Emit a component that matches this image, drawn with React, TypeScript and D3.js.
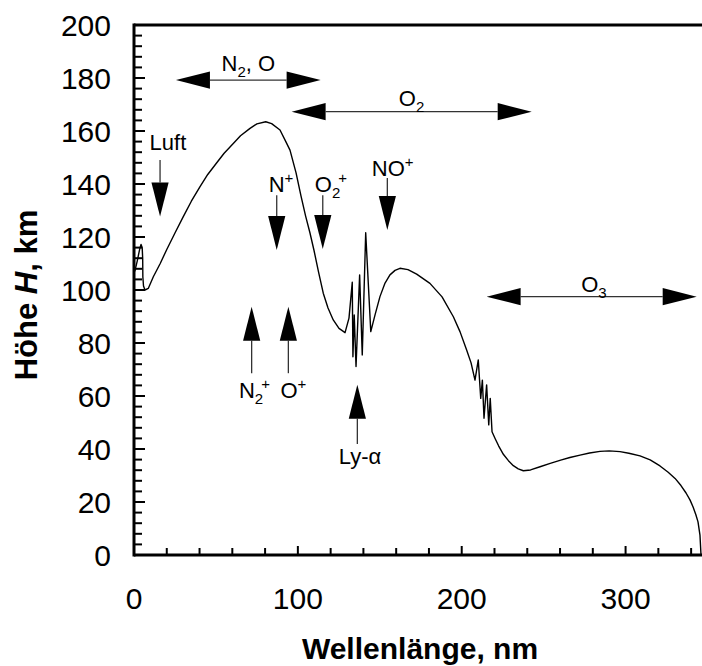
import React from "react";
import * as d3 from "d3";

// Curve: wavelength (nm) vs altitude (km)
const wavelength = [
  0.5, 2, 3.5, 4.3, 5, 5.3, 5.4, 5.8, 6.7, 8.7, 11.8, 16, 20, 25, 30, 35, 40.3, 45, 50.5, 55, 60.6, 65, 70.8, 75, 80.4,
  84, 89.1, 92.8, 95.2, 98.9, 101.9, 104.7, 107.4, 109.8, 112.6, 115.5, 118.4, 121.6, 125.1, 128.8,
  131.2, 133.2, 133.6, 134.4, 135.5, 137.7, 139.3, 141.4, 144.5, 147.1, 150.1, 153.2, 156.2, 159.3, 162.3,
  167.2, 172.5, 180.6, 188.0, 194.9, 199.0, 203.0, 205.7, 208.1,
  210.1, 211.6, 212.6, 213.6, 215.2, 216.5, 217.4, 218.5, 220.5, 222.5, 225.4, 228.5, 231.5, 234.5, 237.6, 242, 247.8,
  254, 260.4, 266, 272.2, 278, 284.4, 290, 296.6, 302, 308.8, 315, 321, 326, 330.2, 333.8, 336.9, 339.3, 341.2, 342.9, 344.2, 345.4, 346,
];
const altitude = [
  107, 111, 115.5, 117.2, 116, 112, 105, 101.5, 100, 100.6, 105, 110, 115.3, 121.5, 127.6, 133.5, 139, 143.6, 148, 151.6, 155.3, 158.2, 161, 162.7, 163.5,
  162.8, 160.4, 155.8, 152.8, 144.2, 135.5, 128.0, 121.5, 115.1, 106.8, 98.8, 93.2, 88.7, 85.5, 83.9,
  89.4, 102.9, 74.8, 90.6, 71.1, 105.7, 75.5, 121.6, 84.3, 90.6, 97.5, 102.6, 105.7, 107.4, 108.2,
  107.7, 106.0, 102.5, 97.4, 89.9, 84.2, 77.4, 72.5, 66.0,
  73.6, 59.1, 66.0, 51.6, 64.2, 49.1, 59.1, 46.5, 43.8, 41.2, 38.0, 35.6, 33.7, 32.5, 31.8, 32.1, 33.3,
  34.6, 35.8, 36.8, 37.7, 38.5, 39.1, 39.3, 39.0, 38.4, 37.4, 35.9, 33.6, 31.2, 28.9, 26.2, 23.4, 20.8, 18.1, 15.2, 12.5, 7.5, 0.4,
];

const xTicks = d3.range(0, 341, 20);
const xTickLabels = [0, 100, 200, 300];
const yTicks = d3.range(0, 201, 4);
const yTickLabels = d3.range(0, 201, 20);

type Seg = { t: string; s?: "sub" | "sup" };
// Horizontal double arrows: y, x0, x1
const hArrowY = [179.2, 167.3, 97.5];
const hArrowX0 = [25.6, 96.2, 215.2];
const hArrowX1 = [113.9, 242.7, 343.4];
// Down arrows: x, tail (top), tip
const downX = [15.9, 87.1, 115.2, 154.6];
const downTail = [149.1, 135.8, 135.8, 142.3];
const downTip = [127.7, 115.1, 115.5, 122.6];
// Up arrows
const upX = [71.8, 94.2, 136.3];
const upTail = [68.6, 68.6, 41.9];
const upTip = [93.7, 93.7, 64.2];
// Labels: centre x (nm), baseline (km)
const labelText: Seg[][] = [
  [{ t: "N" }, { t: "2", s: "sub" }, { t: ", O" }],
  [{ t: "O" }, { t: "2", s: "sub" }],
  [{ t: "O" }, { t: "3", s: "sub" }],
  [{ t: "Luft" }],
  [{ t: "N" }, { t: "+", s: "sup" }],
  [{ t: "O" }, { t: "2", s: "sub" }, { t: "+", s: "sup" }],
  [{ t: "NO" }, { t: "+", s: "sup" }],
  [{ t: "N" }, { t: "2", s: "sub" }, { t: "+", s: "sup" }],
  [{ t: "O" }, { t: "+", s: "sup" }],
  [{ t: "Ly-α" }],
];
const labelX = [69.8, 169.4, 280.7, 20.7, 89.7, 120.2, 157.9, 73.5, 97.3, 137.9];
const labelY = [182.6, 169.4, 99.4, 152.8, 137.0, 137.0, 143.0, 59.1, 59.1, 34.3];

const W = 702;
const H = 666;
const FONT = "'Liberation Sans', Arial, Helvetica, sans-serif";

export default function App() {
  const x = d3.scaleLinear().domain([0, 350]).range([134, 134 + 350 * 1.6386]);
  const y = d3.scaleLinear().domain([0, 200]).range([555, 25]);
  const pts: [number, number][] = wavelength.map((w, i) => [w, altitude[i]]);
  const line = d3
    .line<[number, number]>()
    .x((d) => x(d[0]))
    .y((d) => y(d[1]));

  const HL = 34; // head length
  const HW = 8.6; // head half width

  const renderLabel = (segs: Seg[], i: number) => {
    const out: React.ReactNode[] = [];
    let shift = 0;
    let prevSub = false;
    segs.forEach((s, j) => {
      let target = 0;
      if (s.s === "sub") target = 6;
      if (s.s === "sup") target = -9;
      const dy = target - shift;
      shift = target;
      const dx = s.s === "sup" && prevSub ? -2 : 0;
      out.push(
        <tspan key={j} dy={dy} dx={dx} fontSize={s.s ? 15 : 22}>
          {s.t}
        </tspan>
      );
      prevSub = s.s === "sub";
    });
    return (
      <text key={i} x={x(labelX[i])} y={y(labelY[i])} textAnchor="middle" fontFamily={FONT} fontSize={22} fill="#000">
        {out}
      </text>
    );
  };

  return (
    <svg width={W} height={H} style={{ position: "absolute", left: 0, top: 0, background: "#fff" }}>
      <rect width={W} height={H} fill="#fff" />
      {/* ticks */}
      {yTicks.map((t) => (
        <line
          key={"yt" + t}
          x1={x(0)}
          x2={x(0) + (t % 20 === 0 ? 11 : 8)}
          y1={y(t)}
          y2={y(t)}
          stroke="#000"
          strokeWidth={2}
        />
      ))}
      {xTicks.map((t) => (
        <line
          key={"xt" + t}
          x1={x(t)}
          x2={x(t)}
          y1={y(0)}
          y2={y(0) - (t % 100 === 0 ? 9 : 7)}
          stroke="#000"
          strokeWidth={2}
        />
      ))}
      {/* axes frame */}
      <line x1={x(0)} x2={x(0)} y1={y(200) - 1.5} y2={y(0) + 1.5} stroke="#000" strokeWidth={3} />
      <line x1={x(0)} x2={x(350)} y1={y(0)} y2={y(0)} stroke="#000" strokeWidth={3} />
      <line x1={x(0)} x2={x(350)} y1={y(200)} y2={y(200)} stroke="#000" strokeWidth={3} />
      {/* tick labels */}
      {yTickLabels.map((t) => (
        <text key={"yl" + t} x={111} y={y(t)} dy="0.36em" textAnchor="end" fontFamily={FONT} fontSize={30}>
          {t}
        </text>
      ))}
      {xTickLabels.map((t) => (
        <text key={"xl" + t} x={x(t)} y={609} textAnchor="middle" fontFamily={FONT} fontSize={30}>
          {t}
        </text>
      ))}
      {/* axis titles */}
      <text x={420} y={659} textAnchor="middle" fontFamily={FONT} fontSize={30} fontWeight="bold">
        Wellenlänge, nm
      </text>
      <text
        transform={`translate(37,295) rotate(-90)`}
        textAnchor="middle"
        fontFamily={FONT}
        fontSize={31}
        fontWeight="bold"
      >
        Höhe <tspan fontStyle="italic">H</tspan>, km
      </text>
      {/* curve */}
      <path d={line(pts) || ""} fill="none" stroke="#000" strokeWidth={1.4} strokeLinejoin="round" />
      {/* horizontal double arrows */}
      {hArrowY.map((v, i) => {
        const yy = y(v);
        const a = x(hArrowX0[i]);
        const b = x(hArrowX1[i]);
        return (
          <g key={"ha" + i}>
            <line x1={a + HL} x2={b - HL} y1={yy} y2={yy} stroke="#333" strokeWidth={1.3} />
            <polygon points={`${a},${yy} ${a + HL},${yy - HW} ${a + HL},${yy + HW}`} fill="#000" />
            <polygon points={`${b},${yy} ${b - HL},${yy - HW} ${b - HL},${yy + HW}`} fill="#000" />
          </g>
        );
      })}
      {/* down arrows */}
      {downX.map((v, i) => {
        const xx = x(v);
        const t0 = y(downTail[i]);
        const t1 = y(downTip[i]);
        return (
          <g key={"da" + i}>
            <line x1={xx} x2={xx} y1={t0} y2={t1 - HL} stroke="#333" strokeWidth={1.3} />
            <polygon points={`${xx},${t1} ${xx - HW},${t1 - HL} ${xx + HW},${t1 - HL}`} fill="#000" />
          </g>
        );
      })}
      {/* up arrows */}
      {upX.map((v, i) => {
        const xx = x(v);
        const t0 = y(upTail[i]);
        const t1 = y(upTip[i]);
        return (
          <g key={"ua" + i}>
            <line x1={xx} x2={xx} y1={t0} y2={t1 + HL} stroke="#333" strokeWidth={1.3} />
            <polygon points={`${xx},${t1} ${xx - HW},${t1 + HL} ${xx + HW},${t1 + HL}`} fill="#000" />
          </g>
        );
      })}
      {/* labels */}
      {labelText.map((segs, i) => renderLabel(segs, i))}
    </svg>
  );
}
